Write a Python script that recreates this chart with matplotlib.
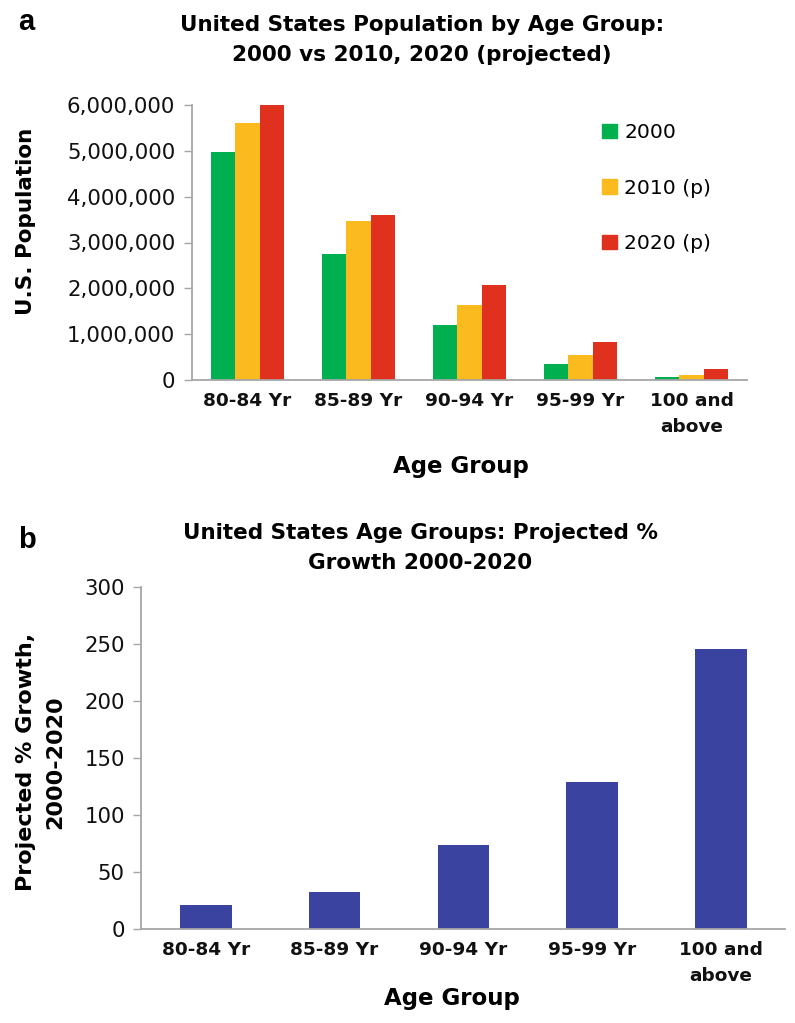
import matplotlib.pyplot as plt
import numpy as np
from matplotlib.patches import Patch

# === DATA ===
age_groups = ["80-84 Yr", "85-89 Yr", "90-94 Yr", "95-99 Yr", "100 and\nabove"]
pop_2000 = [4970000, 2740000, 1200000, 355000, 60000]
pop_2010 = [5600000, 3480000, 1630000, 540000, 120000]
pop_2020 = [6020000, 3610000, 2080000, 830000, 230000]
series_labels = ["2000", "2010 (p)", "2020 (p)"]
growth_pct = [20.8, 31.9, 73.2, 128.6, 245.5]

pop_ticks = [0, 1000000, 2000000, 3000000, 4000000, 5000000, 6000000]
growth_ticks = [0, 50, 100, 150, 200, 250, 300]

colors = ["#00B050", "#FBBA1D", "#E0301E"]
blue = "#3A44A0"
spine_col = "#A6A6A6"

plt.rcParams['font.family'] = ['DejaVu Sans']

W, H = 795, 1023
fig = plt.figure(figsize=(W / 100, H / 100), dpi=100)


def fx(px):
    return px / W


def fy(py):
    return 1 - py / H


def style_axes(ax):
    for s in ["top", "right"]:
        ax.spines[s].set_visible(False)
    for s in ["left", "bottom"]:
        ax.spines[s].set_color(spine_col)
        ax.spines[s].set_linewidth(1.3)
    ax.tick_params(axis="y", colors=spine_col, labelcolor="#111111",
                   length=6, width=1.0, labelsize=15.3, pad=6)
    ax.tick_params(axis="x", length=0, pad=9, labelcolor="#111111")


# === PANEL A ===
axa = fig.add_axes([fx(192), fy(380), fx(747) - fx(192), (380 - 105) / H])
x = np.arange(len(age_groups))
bw = 0.22
for i, (vals, lab) in enumerate(zip([pop_2000, pop_2010, pop_2020], series_labels)):
    axa.bar(x + (i - 1) * bw, vals, width=bw, color=colors[i], label=lab)
axa.set_xlim(-0.5, len(age_groups) - 0.5)
axa.set_ylim(0, 6000000)
axa.set_yticks(pop_ticks)
axa.set_yticklabels([f"{v:,}" for v in pop_ticks])
axa.set_xticks(x)
axa.set_xticklabels(age_groups, fontweight="bold", fontsize=13.3, linespacing=1.55)
style_axes(axa)

handles = [Patch(color=c) for c in colors]
fig.legend(handles, series_labels, loc="upper left",
           bbox_to_anchor=(fx(602), fy(123)), frameon=False, fontsize=14.6,
           handlelength=0.72, handleheight=0.72, handletextpad=0.37,
           labelspacing=1.8, borderpad=0, borderaxespad=0)

fig.text(fx(461), fy(466), "Age Group", ha="center", va="center",
         fontweight="bold", fontsize=16.5)
fig.text(fx(26), fy(221), "U.S. Population", rotation=90, ha="center", va="center",
         fontweight="bold", fontsize=15.5)
fig.text(fx(422), fy(40), "United States Population by Age Group:\n2000 vs 2010, 2020 (projected)",
         ha="center", va="center", fontweight="bold", fontsize=15.5, linespacing=1.6)
fig.text(fx(18), fy(30), "a", ha="left", va="baseline", fontweight="bold", fontsize=21,
         family="Liberation Sans")

# === PANEL B ===
axb = fig.add_axes([fx(141.4), fy(928.7), fx(785.4) - fx(141.4), (928.7 - 587.3) / H])
axb.bar(x, growth_pct, width=0.40, color=blue)
axb.set_xlim(-0.5, len(age_groups) - 0.5)
axb.set_ylim(0, 300)
axb.set_yticks(growth_ticks)
axb.set_xticks(x)
axb.set_xticklabels(age_groups, fontweight="bold", fontsize=13.3, linespacing=1.55)
style_axes(axb)

fig.text(fx(452), fy(998), "Age Group", ha="center", va="center",
         fontweight="bold", fontsize=16.5)
fig.text(fx(40.5), fy(762), "Projected % Growth,\n2000-2020", rotation=90, ha="center",
         va="center", fontweight="bold", fontsize=16, multialignment="center",
         linespacing=1.6)
fig.text(fx(420), fy(548), "United States Age Groups: Projected %\nGrowth 2000-2020",
         ha="center", va="center", fontweight="bold", fontsize=15.5, linespacing=1.6)
fig.text(fx(18), fy(548), "b", ha="left", va="baseline", fontweight="bold", fontsize=21,
         family="Liberation Sans")

fig.savefig("out.png", dpi=100)
